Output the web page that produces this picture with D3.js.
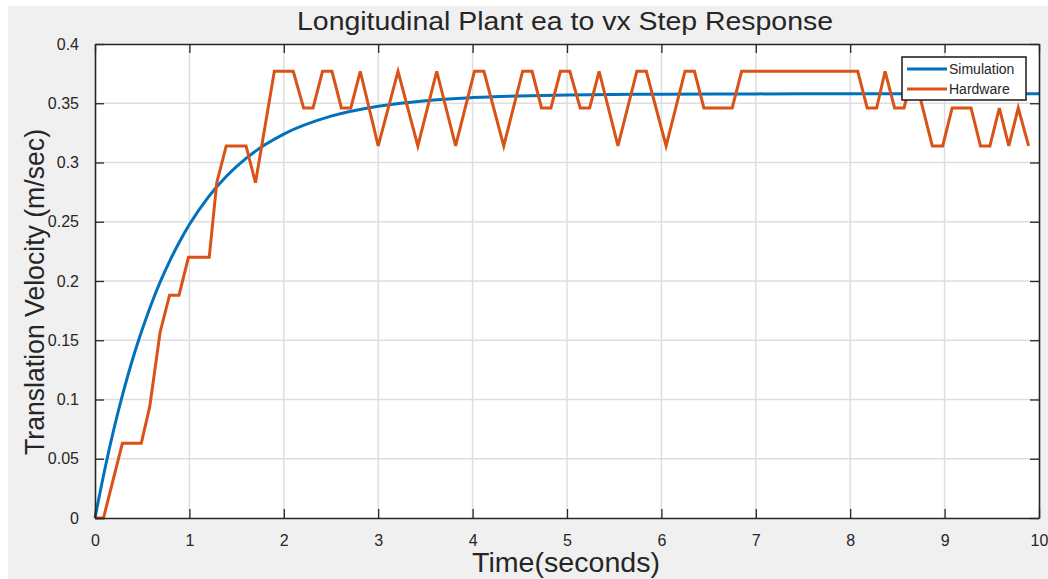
<!DOCTYPE html>
<html>
<head>
<meta charset="utf-8">
<script src="https://cdn.jsdelivr.net/npm/d3@7"></script>
<style>
  html, body { margin: 0; padding: 0; background: #ffffff; }
  svg { display: block; }
  text { font-family: "Liberation Sans", Arial, sans-serif; fill: #262626; }
</style>
</head>
<body>
<svg id="chart" width="1048" height="579"></svg>
<script>
// Step response: simulated model vs. hardware measurement
const simTime = [0, 0.1, 0.2, 0.3, 0.4, 0.5, 0.6, 0.7, 0.8, 0.9, 1.0, 1.2, 1.4, 1.6, 1.8, 2.0, 2.5, 3.0, 3.5, 4.0, 5.0, 6.0, 7.0, 8.0, 9.0, 10.0];
const simVel  = [0, 0.0397, 0.0751, 0.1065, 0.1344, 0.159, 0.1813, 0.2009, 0.2183, 0.2338, 0.2476, 0.2708, 0.289, 0.3035, 0.3149, 0.324, 0.3391, 0.3475, 0.3522, 0.3548, 0.357, 0.3577, 0.3579, 0.358, 0.358, 0.358];

const hwTime = [0, 0.09, 0.29, 0.49, 0.58, 0.69, 0.79, 0.89, 0.99, 1.21, 1.29, 1.39, 1.60, 1.70, 1.90, 2.10, 2.21, 2.31, 2.41, 2.51, 2.61, 2.71, 2.81, 3.00, 3.21, 3.42, 3.62, 3.82, 4.02, 4.12, 4.33, 4.53, 4.63, 4.73, 4.83, 4.93, 5.03, 5.14, 5.24, 5.34, 5.54, 5.74, 5.84, 6.05, 6.25, 6.35, 6.45, 6.75, 6.85, 8.08, 8.18, 8.28, 8.37, 8.47, 8.57, 8.67, 8.87, 8.98, 9.08, 9.28, 9.38, 9.48, 9.58, 9.68, 9.78, 9.89];
const hwVel  = [0, 0, 0.063, 0.063, 0.094, 0.157, 0.188, 0.188, 0.220, 0.220, 0.283, 0.314, 0.314, 0.283, 0.377, 0.377, 0.346, 0.346, 0.377, 0.377, 0.346, 0.346, 0.377, 0.314, 0.377, 0.314, 0.377, 0.314, 0.377, 0.377, 0.314, 0.377, 0.377, 0.346, 0.346, 0.377, 0.377, 0.346, 0.346, 0.377, 0.314, 0.377, 0.377, 0.314, 0.377, 0.377, 0.346, 0.346, 0.377, 0.377, 0.346, 0.346, 0.377, 0.346, 0.346, 0.377, 0.314, 0.314, 0.346, 0.346, 0.314, 0.314, 0.346, 0.314, 0.346, 0.314];

const xTicks = [0, 1, 2, 3, 4, 5, 6, 7, 8, 9, 10];
const yTicks = [0, 0.05, 0.1, 0.15, 0.2, 0.25, 0.3, 0.35, 0.4];
const seriesNames = ["Simulation", "Hardware"];
const seriesColors = ["#0072BD", "#D95319"];

const titleText = "Longitudinal Plant ea to vx Step Response";
const xLabelText = "Time(seconds)";
const yLabelText = "Translation Velocity (m/sec)";

const svg = d3.select("#chart");
const W = 1048, H = 579;
const plot = { left: 95, right: 1039, top: 44, bottom: 518 };

// figure background
svg.append("rect").attr("x", 8).attr("y", 6).attr("width", W - 8).attr("height", H - 6).attr("fill", "#f0f0f0");

const x = d3.scaleLinear().domain([0, 10]).range([plot.left, plot.right]);
const y = d3.scaleLinear().domain([0, 0.4]).range([plot.bottom, plot.top]);

// axes background
svg.append("rect")
  .attr("x", plot.left).attr("y", plot.top)
  .attr("width", plot.right - plot.left).attr("height", plot.bottom - plot.top)
  .attr("fill", "#ffffff");

// grid
const grid = svg.append("g").attr("stroke", "#dedede").attr("stroke-width", 1.5);
grid.selectAll("line.vx").data(xTicks.slice(1, -1)).join("line")
  .attr("x1", d => x(d)).attr("x2", d => x(d)).attr("y1", plot.top).attr("y2", plot.bottom);
grid.selectAll("line.hy").data(yTicks.slice(1, -1)).join("line")
  .attr("y1", d => y(d)).attr("y2", d => y(d)).attr("x1", plot.left).attr("x2", plot.right);

// data lines
const simLine = d3.line().x(d => x(d[0])).y(d => y(d[1])).curve(d3.curveMonotoneX);
const hwLine = d3.line().x(d => x(d[0])).y(d => y(d[1]));

const clip = svg.append("clipPath").attr("id", "plotClip").append("rect")
  .attr("x", plot.left - 2).attr("y", plot.top).attr("width", plot.right - plot.left + 2).attr("height", plot.bottom - plot.top + 2);

const lines = svg.append("g").attr("clip-path", "url(#plotClip)");
lines.append("path")
  .attr("d", simLine(simTime.map((t, i) => [t, simVel[i]])))
  .attr("fill", "none").attr("stroke", seriesColors[0]).attr("stroke-width", 3).attr("stroke-linejoin", "round");
lines.append("path")
  .attr("d", hwLine(hwTime.map((t, i) => [t, hwVel[i]])))
  .attr("fill", "none").attr("stroke", seriesColors[1]).attr("stroke-width", 3).attr("stroke-linejoin", "miter");

// axes with inward ticks (box style)
const tickLen = 9;
const xAxisB = d3.axisBottom(x).tickValues(xTicks).tickSizeInner(-tickLen).tickSizeOuter(0).tickPadding(tickLen + 8).tickFormat(d3.format("d"));
const xAxisT = d3.axisTop(x).tickValues(xTicks).tickSizeInner(-tickLen).tickSizeOuter(0).tickFormat("");
const yAxisL = d3.axisLeft(y).tickValues(yTicks).tickSizeInner(-tickLen).tickSizeOuter(0).tickPadding(tickLen + 7).tickFormat(d => d === 0 ? "0" : String(+d.toFixed(2)));
const yAxisR = d3.axisRight(y).tickValues(yTicks).tickSizeInner(-tickLen).tickSizeOuter(0).tickFormat("");

function styleAxis(g) {
  g.select(".domain").attr("stroke", "#262626").attr("stroke-width", 1.6);
  g.selectAll(".tick line").attr("stroke", "#262626").attr("stroke-width", 1.3);
  g.selectAll(".tick text").attr("fill", "#262626")
    .style("font-family", "'Liberation Sans', Arial, sans-serif").style("font-size", "16px");
}

svg.append("g").attr("transform", `translate(0,${plot.bottom})`).call(xAxisB).call(styleAxis);
svg.append("g").attr("transform", `translate(0,${plot.top})`).call(xAxisT).call(styleAxis);
svg.append("g").attr("transform", `translate(${plot.left},0)`).call(yAxisL).call(styleAxis);
svg.append("g").attr("transform", `translate(${plot.right},0)`).call(yAxisR).call(styleAxis);

// title and axis labels
svg.append("text").attr("x", 565).attr("y", 30).attr("text-anchor", "middle")
  .attr("textLength", 536).attr("lengthAdjust", "spacingAndGlyphs")
  .style("font-size", "25px").text(titleText);
svg.append("text").attr("x", 566).attr("y", 572).attr("text-anchor", "middle")
  .attr("textLength", 188).attr("lengthAdjust", "spacingAndGlyphs")
  .style("font-size", "27px").text(xLabelText);
svg.append("text").attr("transform", `translate(44,292) rotate(-90)`).attr("text-anchor", "middle")
  .attr("textLength", 326).attr("lengthAdjust", "spacingAndGlyphs")
  .style("font-size", "27px").text(yLabelText);

// legend
const lg = svg.append("g").attr("transform", "translate(902,57)");
lg.append("rect").attr("width", 124).attr("height", 43).attr("fill", "#ffffff")
  .attr("stroke", "#262626").attr("stroke-width", 1.6);
seriesNames.forEach((name, i) => {
  const yy = 12 + i * 20;
  lg.append("line").attr("x1", 5).attr("x2", 45).attr("y1", yy).attr("y2", yy)
    .attr("stroke", seriesColors[i]).attr("stroke-width", 3);
  lg.append("text").attr("x", 47).attr("y", yy + 5).style("font-size", "14px").text(name);
});
</script>
</body>
</html>
